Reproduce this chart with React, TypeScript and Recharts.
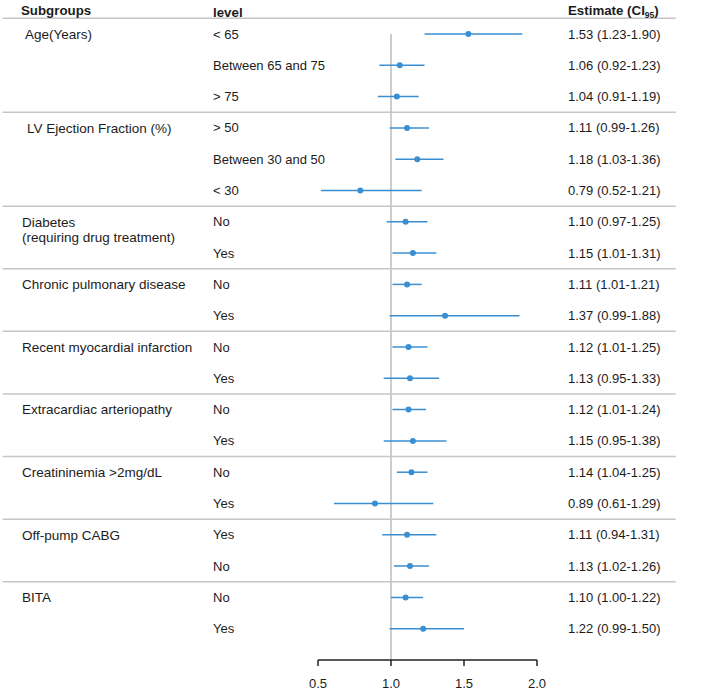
import React from "react";
import {
  ScatterChart,
  Scatter,
  XAxis,
  YAxis,
  ErrorBar,
  ReferenceLine,
} from "recharts";

// ---- data ----
const subgroups = [
  "Age(Years)",
  "LV Ejection Fraction (%)",
  "Diabetes",
  "Chronic pulmonary disease",
  "Recent myocardial infarction",
  "Extracardiac arteriopathy",
  "Creatininemia >2mg/dL",
  "Off-pump CABG",
  "BITA",
];
const subgroupNotes = ["", "", "(requiring drug treatment)", "", "", "", "", "", ""];
const groupSizes = [3, 3, 2, 2, 2, 2, 2, 2, 2];
const levels = [
  "< 65", "Between 65 and 75", "> 75",
  "> 50", "Between 30 and 50", "< 30",
  "No", "Yes",
  "No", "Yes",
  "No", "Yes",
  "No", "Yes",
  "No", "Yes",
  "Yes", "No",
  "No", "Yes",
];
const estimates = [1.53, 1.06, 1.04, 1.11, 1.18, 0.79, 1.1, 1.15, 1.11, 1.37, 1.12, 1.13, 1.12, 1.15, 1.14, 0.89, 1.11, 1.13, 1.1, 1.22];
const lower = [1.23, 0.92, 0.91, 0.99, 1.03, 0.52, 0.97, 1.01, 1.01, 0.99, 1.01, 0.95, 1.01, 0.95, 1.04, 0.61, 0.94, 1.02, 1.0, 0.99];
const upper = [1.9, 1.23, 1.19, 1.26, 1.36, 1.21, 1.25, 1.31, 1.21, 1.88, 1.25, 1.33, 1.24, 1.38, 1.25, 1.29, 1.31, 1.26, 1.22, 1.5];
const xTicks = [0.5, 1.0, 1.5, 2.0];

// ---- derived ----
const groupStart: number[] = [];
{
  let c = 0;
  groupSizes.forEach((s) => {
    groupStart.push(c);
    c += s;
  });
}
const rows = levels.map((lv, i) => {
  const gi = groupStart.indexOf(i);
  return {
    y: i,
    x: estimates[i],
    err: [estimates[i] - lower[i], upper[i] - estimates[i]],
    level: lv,
    subgroup: gi >= 0 ? subgroups[gi] : "",
    note: gi >= 0 ? subgroupNotes[gi] : "",
    label: `${estimates[i].toFixed(2)} (${lower[i].toFixed(2)}-${upper[i].toFixed(2)})`,
  };
});
const separators = [-0.5, ...groupStart.slice(1).map((s) => s - 0.5)];

const BLUE = "#3a8fd2";
const TEXT = "#1c1c1c";
const FONT = "'Liberation Sans', Arial, sans-serif";
const COL_SUB = 22;
const COL_LEVEL = 213;
const COL_EST = 568;
const SUB_INDENT: Record<string, number> = { "Age(Years)": 3, "LV Ejection Fraction (%)": 5 };

const RowTick = (props: any) => {
  const { y, payload } = props;
  const r = rows[payload.value];
  if (!r) return null;
  return (
    <g fontFamily={FONT} fontSize={13} fill={TEXT}>
      {payload.value === 0 && (
        <g fontWeight="bold">
          <text x={COL_SUB - 1} y={y - 24} dy="0.35em" fontSize={13.3}>Subgroups</text>
          <text x={COL_LEVEL} y={y - 22} dy="0.35em" fontSize={13.3}>level</text>
          <text x={COL_EST} y={y - 24} dy="0.35em" fontSize={13.3}>
            Estimate (CI<tspan fontSize={8.5} dy="3">95</tspan>
            <tspan dy="-3">)</tspan>
          </text>
        </g>
      )}
      {r.subgroup && (
        <text x={COL_SUB + (SUB_INDENT[r.subgroup] || 0)} y={y} dy="0.35em" fontSize={13.5}>
          {r.subgroup}
        </text>
      )}
      {r.note && (
        <text x={COL_SUB} y={y + 15} dy="0.35em" fontSize={13.5}>
          {r.note}
        </text>
      )}
      <text x={COL_LEVEL} y={y} dy="0.35em">{r.level}</text>
      <text x={COL_EST} y={y} dy="0.35em">{r.label}</text>
    </g>
  );
};

const Dot = (p: any) => <circle cx={p.cx} cy={p.cy} r={3} fill={BLUE} />;

export default function App() {
  return (
    <div style={{ position: "absolute", left: 0, top: 0, width: 704, height: 691, background: "#fff" }}>
      <ScatterChart
        width={704}
        height={691}
        margin={{ top: 34, right: 167, bottom: 6, left: 308 }}
      >
        <XAxis
          type="number"
          dataKey="x"
          domain={[0.5, 2.0]}
          ticks={xTicks}
          tickFormatter={(v: number) => v.toFixed(1)}
          allowDataOverflow
          height={25}
          stroke="#222"
          strokeWidth={1.5}
          tickSize={6}
          tickMargin={13}
          tick={{ fill: TEXT, fontSize: 13, fontFamily: FONT }}
        />
        <YAxis
          type="number"
          dataKey="y"
          domain={[0, 20]}
          reversed
          ticks={rows.map((r) => r.y)}
          interval={0}
          width={10}
          axisLine={false}
          tickLine={false}
          tick={<RowTick />}
        />
        <ReferenceLine
          ifOverflow="visible"
          segment={[{ x: 1, y: 0 }, { x: 1, y: 20 }]}
          stroke="#bcbcbc"
          strokeWidth={1.5}
        />
        {separators.map((s) => (
          <ReferenceLine
            key={s}
            ifOverflow="visible"
            segment={[{ x: -1.66, y: s }, { x: 2.95, y: s }]}
            stroke="#c6c6c6"
            strokeWidth={1.5}
          />
        ))}
        <Scatter data={rows} isAnimationActive={false} shape={<Dot />}>
          <ErrorBar
            dataKey="err"
            direction="x"
            width={0}
            stroke={BLUE}
            strokeWidth={1.5}
            isAnimationActive={false}
          />
        </Scatter>
      </ScatterChart>
    </div>
  );
}
